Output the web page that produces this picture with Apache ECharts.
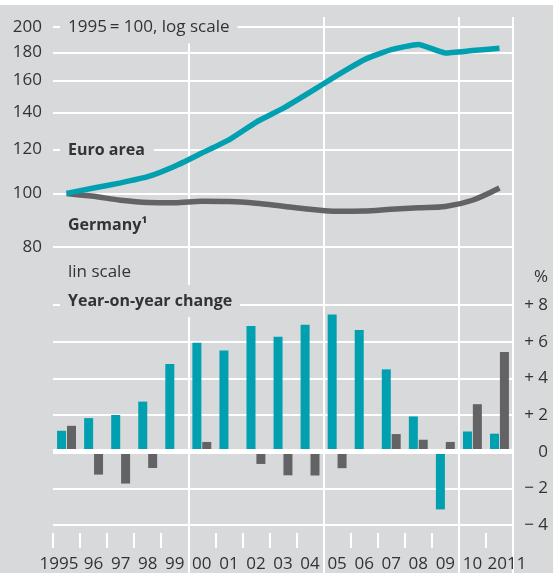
<!DOCTYPE html>
<html lang="en">
<head>
    <meta charset="UTF-8">
    <title>House prices</title>
    <script src="https://cdn.jsdelivr.net/npm/echarts@6/dist/echarts.min.js" type="text/javascript"></script>
</head>
<body>
<style>
    html, body {
        margin: 0;
        padding: 0;
        background: #fff;
    }

    #main {
        width: 553px;
        height: 573px;
        background: linear-gradient(#fff 0, #fff 5px, #d8d9db 5px);
    }
</style>
<div id="main"></div>
<script type="text/javascript">
    // years on the x axis
    var years = ['1995', '96', '97', '98', '99', '00', '01', '02', '03', '04',
        '05', '06', '07', '08', '09', '10', '2011']
    // index, 1995 = 100 (log scale)
    var euroIndex = [100, 102.3, 104.5, 107.2, 112, 118.3, 125, 134.5, 142.5, 152.5,
        163.5, 174.5, 182, 186, 179.5, 181.3, 183]
    var germanyIndex = [100, 98.8, 97.2, 96.3, 96.2, 96.8, 96.7, 96, 94.8, 93.6,
        92.8, 92.9, 93.6, 94.2, 94.7, 97.2, 102.3]
    // year-on-year change, %
    var euroChange = [1.14, 1.83, 2.0, 2.73, 4.78, 5.94, 5.52, 6.86, 6.27, 6.92,
        7.48, 6.63, 4.49, 1.92, -3.15, 1.1, 0.98]
    var germanyChange = [1.41, -1.25, -1.74, -0.89, 0.1, 0.53, -0.1, -0.67, -1.29, -1.3,
        -0.9, 0.1, 0.96, 0.65, 0.53, 2.59, 5.43]
    var logTicks = [80, 100, 120, 140, 160, 180, 200]

    var teal = '#00a0b1'
    var grey = '#636365'
    var bg = '#d8d9db'
    var ink = '#333333'
    var font = 'Open Sans'

    function boxLabel(text, x, y, bold, pad) {
        return {
            type: 'text',
            z: 50,
            x: x,
            y: y,
            style: {
                text: text,
                fill: ink,
                font: (bold ? 'bold 16px ' : '17px ') + '"' + font + '"',
                verticalAlign: 'middle',
                align: 'left',
                backgroundColor: bg,
                padding: pad || [4, 8, 4, 8]
            }
        }
    }

    var chart = echarts.init(document.getElementById('main'))
    var option = {
        animation: false,
        textStyle: {fontFamily: font},
        grid: [
            {left: 53, right: 40, top: 27, bottom: 326},
            {left: 53, right: 40, top: 305, bottom: 47},
            {left: 53, right: 40, top: 17, bottom: 0}
        ],
        xAxis: [
            {
                type: 'category', gridIndex: 0, data: years,
                axisLine: {show: false}, axisTick: {show: false},
                axisLabel: {show: false}, splitLine: {show: false}
            },
            {
                type: 'category', gridIndex: 1, data: years, position: 'bottom', offset: 8,
                axisLine: {show: false, onZero: false},
                axisTick: {show: true, length: 15, interval: 0, lineStyle: {color: '#fff', width: 2}},
                axisLabel: {
                    interval: 0, margin: 23, color: ink, fontSize: 17,
                    formatter: function (v) {
                        if (v === '1995') return '{l|' + v + '}'
                        if (v === '2011') return '{r|' + v + '}'
                        return v
                    },
                    rich: {
                        l: {fontSize: 17, color: ink, padding: [0, 15, 0, 0]},
                        r: {fontSize: 17, color: ink, padding: [0, 0, 0, 15]}
                    }
                },
                splitLine: {show: false}
            },
            {
                type: 'category', gridIndex: 2, data: years,
                axisLine: {show: false}, axisTick: {show: false}, axisLabel: {show: false},
                splitLine: {
                    show: true,
                    interval: function (i) {
                        return i === 5 || i === 10 || i === 15
                    },
                    lineStyle: {color: '#fff', width: 2}
                }
            }
        ],
        yAxis: [
            {
                type: 'log', gridIndex: 0, logBase: 10, min: 80, max: 200,
                axisLine: {show: false},
                axisTick: {show: false, customValues: logTicks},
                axisLabel: {customValues: logTicks, color: ink, fontSize: 17, margin: 11},
                splitLine: {show: true, lineStyle: {color: '#fff', width: 2}}
            },
            {
                type: 'value', gridIndex: 1, position: 'right', min: -4, max: 8, interval: 2,
                axisLine: {show: false}, axisTick: {show: false},
                axisLabel: {
                    color: ink, fontSize: 17, align: 'right', margin: 35,
                    formatter: function (v) {
                        if (v > 0) return '+ ' + v
                        if (v < 0) return '\u2212 ' + Math.abs(v)
                        return '0'
                    }
                },
                splitLine: {show: true, lineStyle: {color: '#fff', width: 2}}
            },
            {
                type: 'value', gridIndex: 2, show: false, splitLine: {show: false}
            }
        ],
        series: [
            {
                name: 'Germany', type: 'line', xAxisIndex: 0, yAxisIndex: 0,
                data: germanyIndex, symbol: 'none', smooth: 0.3,
                lineStyle: {color: grey, width: 5.5}
            },
            {
                name: 'Euro area', type: 'line', xAxisIndex: 0, yAxisIndex: 0,
                data: euroIndex, symbol: 'none', smooth: 0.15,
                lineStyle: {color: teal, width: 5.5}
            },
            {
                name: 'Euro area yoy', type: 'bar', xAxisIndex: 1, yAxisIndex: 1,
                data: euroChange, barWidth: 9, barGap: '10%',
                itemStyle: {color: teal}
            },
            {
                name: 'Germany yoy', type: 'bar', xAxisIndex: 1, yAxisIndex: 1,
                data: germanyChange, barWidth: 9, barGap: '10%',
                itemStyle: {color: grey},
                markLine: {
                    silent: true, symbol: 'none', label: {show: false},
                    lineStyle: {color: '#fff', width: 5, type: 'solid'},
                    data: [{yAxis: 0}]
                }
            }
        ],
        graphic: [
            boxLabel('1995\u2009= 100, log scale', 60, 27, false, [8, 8, 8, 8]),
            boxLabel('Euro area', 60, 150, true, [4, 9, 4, 8]),
            boxLabel('Germany\u00b9', 60, 225, true),
            boxLabel('lin scale', 60, 272, false),
            boxLabel('Year-on-year change', 60, 301, true, [8, 8, 8, 8]),
            {
                type: 'text', z: 50, x: 548, y: 277,
                style: {text: '%', fill: ink, font: '17px "' + font + '"', align: 'right', verticalAlign: 'middle'}
            }
        ]
    }
    chart.setOption(option)
</script>
</body>
</html>
